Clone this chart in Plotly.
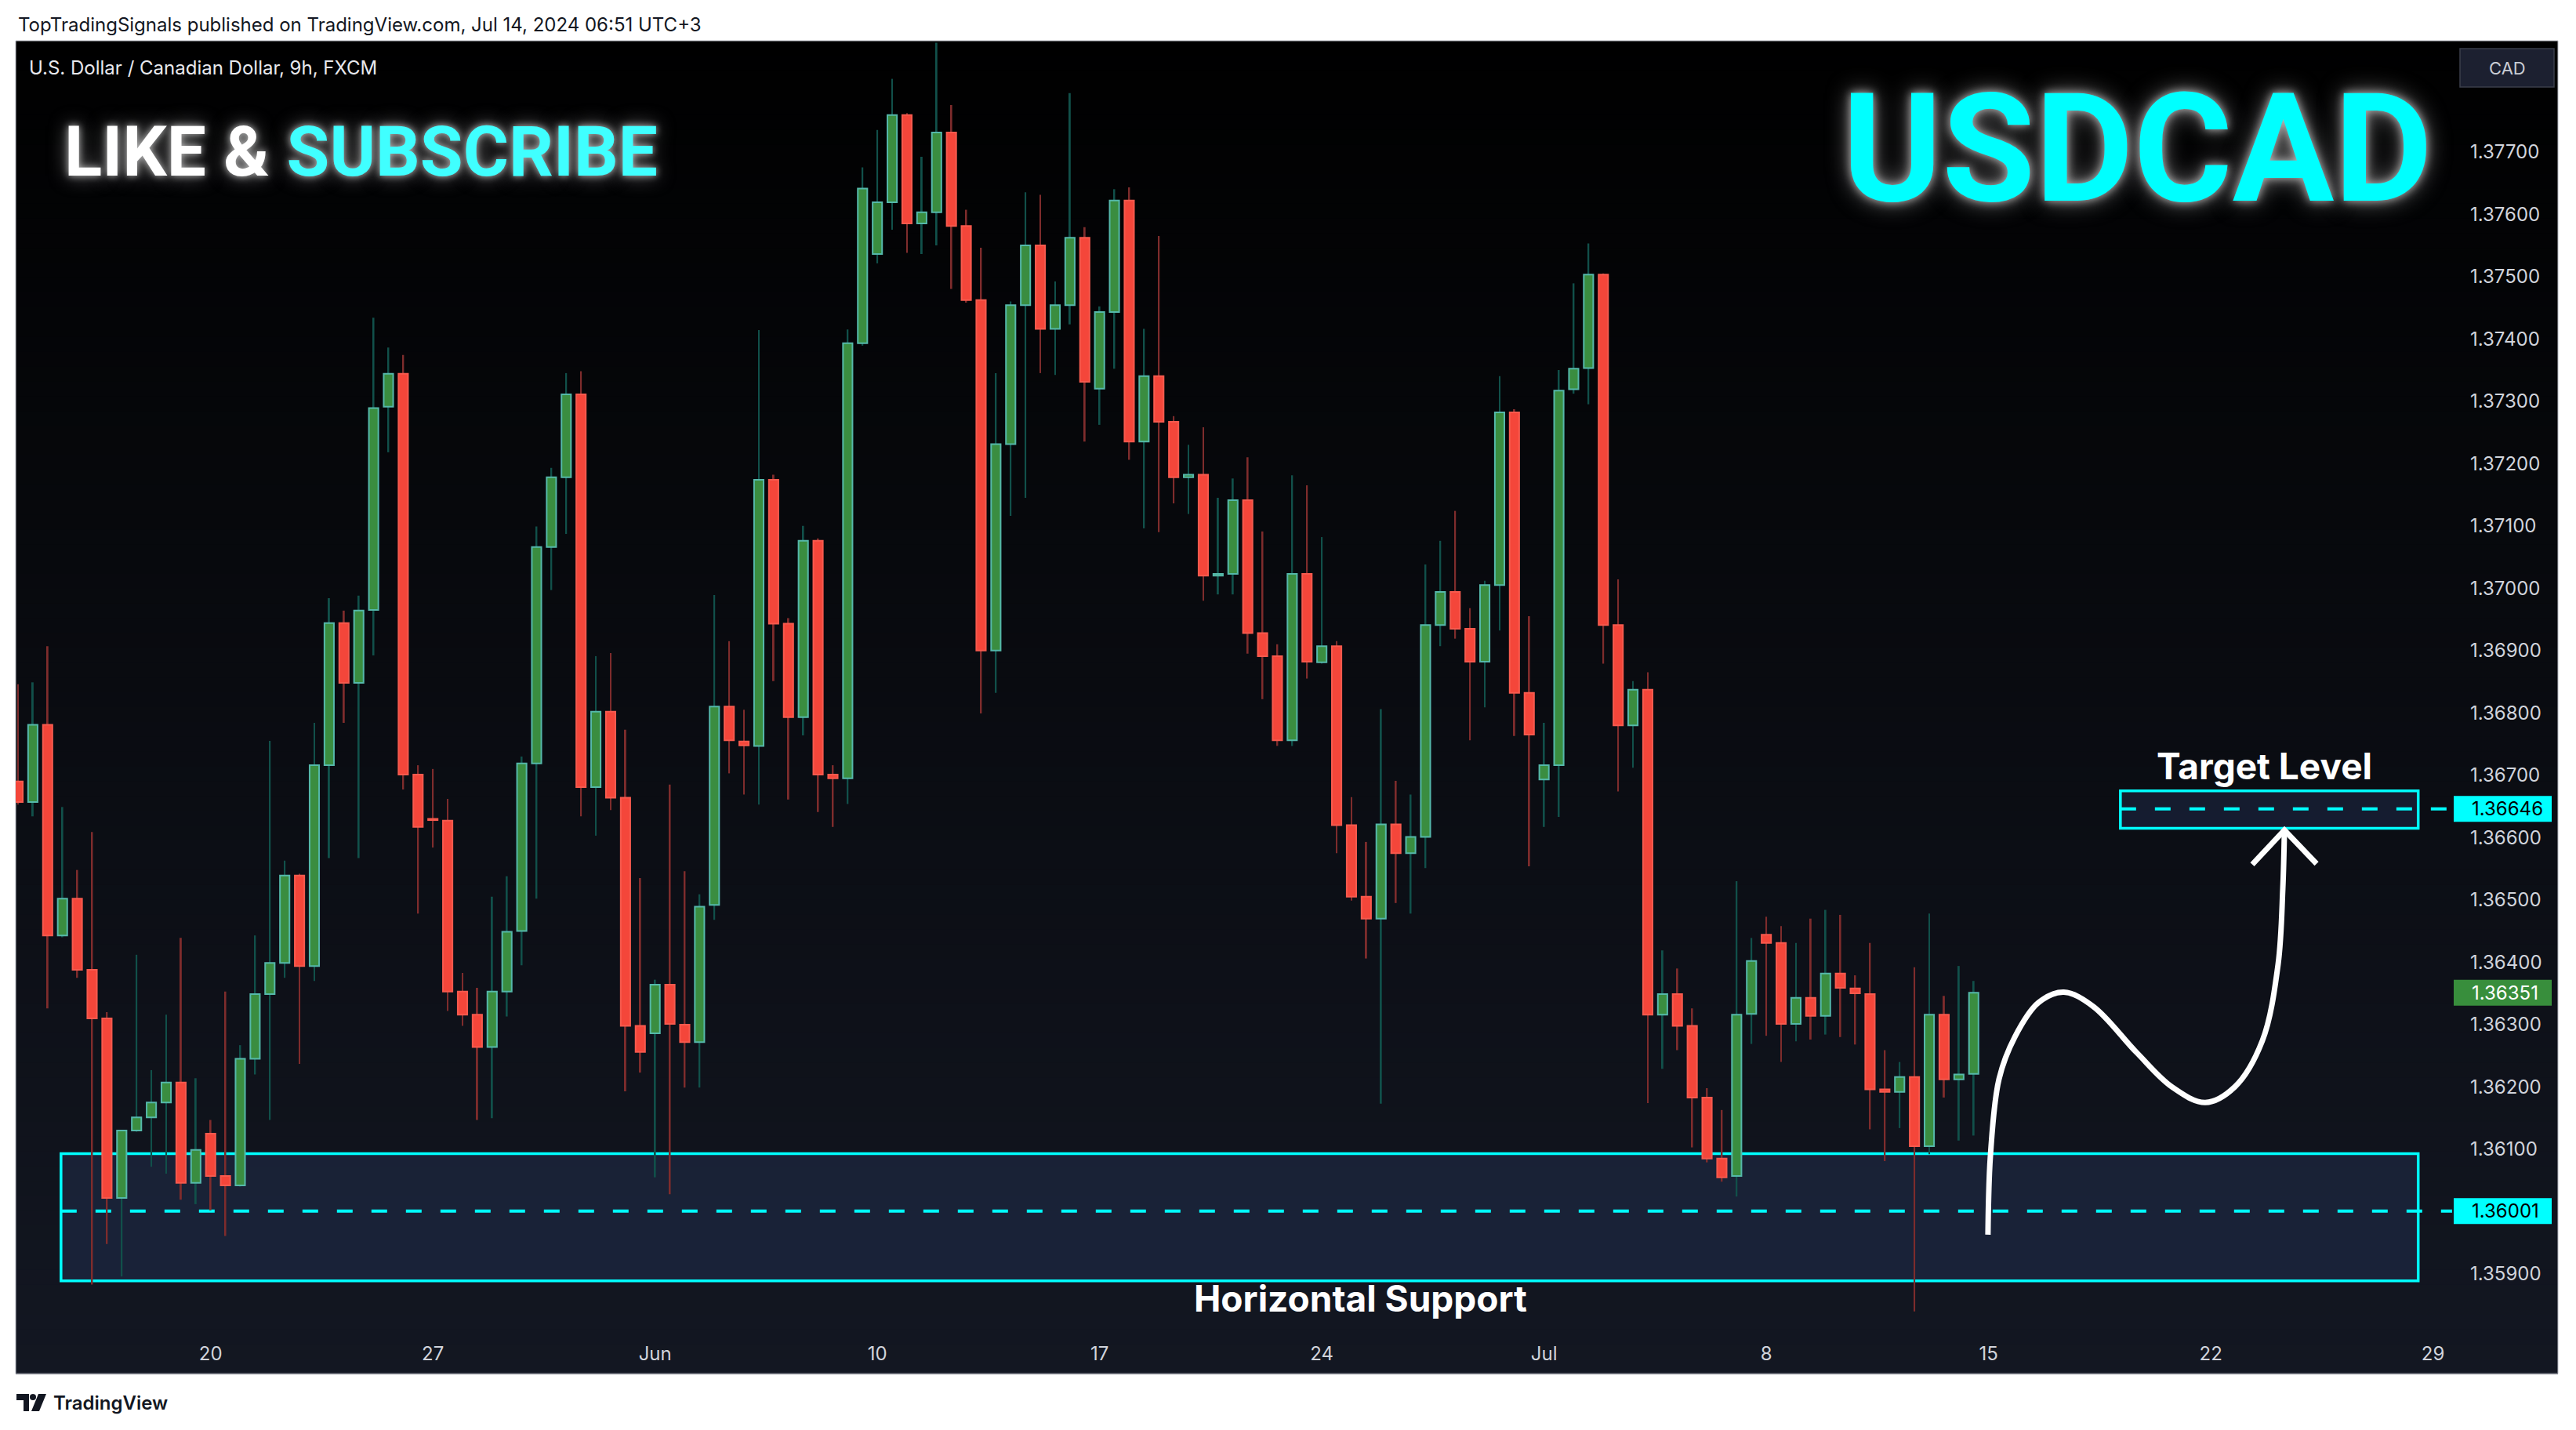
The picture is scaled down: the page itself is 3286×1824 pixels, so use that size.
import numpy as np
import pandas as pd
import plotly.graph_objects as go

# ---------------- data: USDCAD 9h bars (FXCM) ----------------
open_ = [1.36690, 1.36657, 1.36781, 1.36443, 1.36502, 1.36388, 1.36310, 1.36022, 1.36130, 1.36151,
         1.36175, 1.36207, 1.36046, 1.36125, 1.36057, 1.36042, 1.36245, 1.36349, 1.36399, 1.36539,
         1.36394, 1.36716, 1.36944, 1.36848, 1.36965, 1.37291, 1.37344, 1.36701, 1.36630, 1.36627,
         1.36353, 1.36316, 1.36264, 1.36353, 1.36450, 1.36719, 1.37066, 1.37178, 1.37311, 1.36681,
         1.36802, 1.36664, 1.36298, 1.36286, 1.36364, 1.36300, 1.36272, 1.36492, 1.36810, 1.36754,
         1.36747, 1.37174, 1.36943, 1.36793, 1.37076, 1.36701, 1.36695, 1.37393, 1.37536, 1.37619,
         1.37759, 1.37585, 1.37603, 1.37731, 1.37581, 1.37462, 1.36900, 1.37231, 1.37454, 1.37550,
         1.37416, 1.37454, 1.37562, 1.37320, 1.37443, 1.37622, 1.37235, 1.37340, 1.37267, 1.37178,
         1.37182, 1.37020, 1.37023, 1.37141, 1.36928, 1.36891, 1.36756, 1.37023, 1.36881, 1.36907,
         1.36620, 1.36505, 1.36470, 1.36621, 1.36575, 1.36601, 1.36941, 1.36994, 1.36935, 1.36882,
         1.37005, 1.37282, 1.36832, 1.36693, 1.36716, 1.37319, 1.37353, 1.37503, 1.36941, 1.36780,
         1.36837, 1.36316, 1.36349, 1.36298, 1.36183, 1.36085, 1.36057, 1.36317, 1.36444, 1.36431,
         1.36301, 1.36343, 1.36314, 1.36382, 1.36358, 1.36349, 1.36196, 1.36192, 1.36216, 1.36105,
         1.36316, 1.36212, 1.36221]
high = [1.36846, 1.36849, 1.36907, 1.36649, 1.36548, 1.36609, 1.36320, 1.36130, 1.36412, 1.36227,
        1.36316, 1.36439, 1.36214, 1.36147, 1.36353, 1.36267, 1.36443, 1.36755, 1.36563, 1.36542,
        1.36784, 1.36984, 1.36964, 1.36988, 1.37434, 1.37386, 1.37374, 1.36716, 1.36710, 1.36662,
        1.36383, 1.36359, 1.36505, 1.36538, 1.36730, 1.37099, 1.37193, 1.37345, 1.37348, 1.36891,
        1.36896, 1.36773, 1.36535, 1.36372, 1.36685, 1.36546, 1.36509, 1.36989, 1.36915, 1.36805,
        1.37414, 1.37182, 1.36952, 1.37100, 1.37080, 1.36716, 1.37415, 1.37675, 1.37735, 1.37817,
        1.37762, 1.37692, 1.37875, 1.37775, 1.37607, 1.37546, 1.37345, 1.37460, 1.37635, 1.37631,
        1.37492, 1.37794, 1.37579, 1.37452, 1.37640, 1.37643, 1.37416, 1.37565, 1.37276, 1.37230,
        1.37258, 1.37145, 1.37176, 1.37210, 1.37091, 1.36910, 1.37181, 1.37165, 1.37082, 1.36915,
        1.36665, 1.36593, 1.36806, 1.36691, 1.36669, 1.37038, 1.37076, 1.37124, 1.36968, 1.37012,
        1.37340, 1.37287, 1.36955, 1.36784, 1.37350, 1.37489, 1.37553, 1.37505, 1.37014, 1.36851,
        1.36865, 1.36419, 1.36390, 1.36326, 1.36198, 1.36163, 1.36530, 1.36439, 1.36473, 1.36458,
        1.36431, 1.36470, 1.36484, 1.36476, 1.36379, 1.36431, 1.36259, 1.36240, 1.36392, 1.36478,
        1.36346, 1.36394, 1.36370]
low = [1.36653, 1.36634, 1.36326, 1.36440, 1.36375, 1.35883, 1.35948, 1.35896, 1.36128, 1.36072,
       1.36061, 1.36019, 1.36012, 1.36002, 1.35961, 1.36040, 1.36220, 1.36147, 1.36375, 1.36237,
       1.36370, 1.36567, 1.36784, 1.36567, 1.36892, 1.37218, 1.36677, 1.36478, 1.36584, 1.36322,
       1.36298, 1.36147, 1.36150, 1.36313, 1.36395, 1.36502, 1.36997, 1.37087, 1.36634, 1.36603,
       1.36644, 1.36193, 1.36223, 1.36055, 1.36028, 1.36199, 1.36199, 1.36468, 1.36703, 1.36669,
       1.36653, 1.36851, 1.36661, 1.36764, 1.36641, 1.36617, 1.36654, 1.37389, 1.37521, 1.37575,
       1.37538, 1.37536, 1.37550, 1.37480, 1.37458, 1.36799, 1.36832, 1.37116, 1.37145, 1.37345,
       1.37342, 1.37423, 1.37235, 1.37262, 1.37352, 1.37206, 1.37096, 1.37090, 1.37136, 1.37119,
       1.36980, 1.36990, 1.36990, 1.36895, 1.36822, 1.36747, 1.36747, 1.36855, 1.36879, 1.36575,
       1.36499, 1.36406, 1.36173, 1.36495, 1.36478, 1.36551, 1.36907, 1.36919, 1.36756, 1.36809,
       1.36932, 1.36763, 1.36554, 1.36617, 1.36633, 1.37312, 1.37295, 1.36879, 1.36674, 1.36712,
       1.36174, 1.36229, 1.36259, 1.36103, 1.36079, 1.36048, 1.36024, 1.36269, 1.36282, 1.36240,
       1.36273, 1.36276, 1.36284, 1.36280, 1.36268, 1.36132, 1.36081, 1.36134, 1.35840, 1.36092,
       1.36183, 1.36114, 1.36122]
close = [1.36657, 1.36781, 1.36443, 1.36502, 1.36388, 1.36310, 1.36022, 1.36130, 1.36151, 1.36175,
         1.36207, 1.36046, 1.36099, 1.36057, 1.36042, 1.36245, 1.36349, 1.36399, 1.36539, 1.36394,
         1.36716, 1.36944, 1.36848, 1.36964, 1.37289, 1.37344, 1.36701, 1.36617, 1.36628, 1.36353,
         1.36316, 1.36264, 1.36353, 1.36449, 1.36719, 1.37066, 1.37178, 1.37311, 1.36681, 1.36802,
         1.36664, 1.36298, 1.36256, 1.36364, 1.36301, 1.36272, 1.36489, 1.36810, 1.36756, 1.36748,
         1.37174, 1.36943, 1.36793, 1.37076, 1.36701, 1.36695, 1.37393, 1.37641, 1.37619, 1.37759,
         1.37585, 1.37603, 1.37731, 1.37581, 1.37462, 1.36900, 1.37231, 1.37454, 1.37550, 1.37416,
         1.37454, 1.37562, 1.37331, 1.37443, 1.37622, 1.37235, 1.37340, 1.37267, 1.37178, 1.37182,
         1.37020, 1.37023, 1.37141, 1.36928, 1.36891, 1.36756, 1.37023, 1.36882, 1.36907, 1.36620,
         1.36505, 1.36470, 1.36621, 1.36575, 1.36601, 1.36941, 1.36994, 1.36935, 1.36882, 1.37005,
         1.37282, 1.36832, 1.36765, 1.36716, 1.37317, 1.37352, 1.37503, 1.36941, 1.36780, 1.36837,
         1.36316, 1.36349, 1.36298, 1.36183, 1.36085, 1.36055, 1.36316, 1.36402, 1.36431, 1.36301,
         1.36343, 1.36314, 1.36382, 1.36359, 1.36350, 1.36196, 1.36192, 1.36216, 1.36105, 1.36316,
         1.36212, 1.36220, 1.36351]

price_ticks = [1.359, 1.360, 1.361, 1.362, 1.363, 1.364, 1.365, 1.366, 1.367, 1.368,
               1.369, 1.370, 1.371, 1.372, 1.373, 1.374, 1.375, 1.376, 1.377]

# calendar: 3 bars (9h) per trading day; first visible bar = 3rd bar of 13 May 2024
sessions = pd.bdate_range("2024-05-13", "2024-08-02")
BARS_PER_DAY = 3
FIRST_SLOT = 2

# drawings (bar index, price)
support_zone = dict(x0=2.9, x1=162.0, y0=1.35889, y1=1.36093)
support_level = 1.36001
target_zone = dict(x0=141.9, x1=162.0, y0=1.36615, y1=1.36675)
target_level = 1.36646
last_price = close[-1]
path_x = [132.96, 133.13, 133.71, 134.77, 136.36, 138.08, 140.07, 143.0, 145.38, 147.63,
          149.62, 151.48, 152.54, 152.86, 152.97]
path_y = [1.35963, 1.36091, 1.36213, 1.36280, 1.36335, 1.36352, 1.36329, 1.36255, 1.36200, 1.36175,
          1.36200, 1.36274, 1.36396, 1.36518, 1.36612]
head_x = [150.8, 152.97, 155.14]
head_y = [1.36557, 1.36612, 1.36558]

# ---------------- figure geometry ----------------
W, H = 3286, 1824
PL, PR, PT, PB = 20, 3128, 52, 1696          # plot area in px
XR = [-0.159, 164.29]
YR = [1.3581067, 1.3787807]


def px(v):
    return (v - PL) / (PR - PL)


def py(v):
    return (PB - v) / (PB - PT)


o = np.array(open_); h = np.array(high); l = np.array(low); c = np.array(close)
x = np.arange(len(c))
up = c >= o

UP_FILL, UP_EDGE, UP_WICK = "#3a8d40", "#55b8aa", "#11504a"
DN_FILL, DN_EDGE, DN_WICK = "#f4463a", "#f65a4e", "#7e2c2c"
CYAN = "#00ffff"

fig = go.Figure()
fig.add_trace(go.Bar(x=x, y=h - l, base=l, width=0.1,
                     marker=dict(color=np.where(up, UP_WICK, DN_WICK), line=dict(width=0)),
                     hoverinfo="skip", showlegend=False))
fig.add_trace(go.Bar(x=x, y=np.abs(c - o), base=np.minimum(o, c), width=0.64,
                     marker=dict(color=np.where(up, UP_FILL, DN_FILL),
                                 line=dict(color=np.where(up, UP_EDGE, DN_EDGE), width=2)),
                     hoverinfo="skip", showlegend=False))
fig.add_trace(go.Scatter(x=path_x, y=path_y, mode="lines",
                         line=dict(color="white", width=7, shape="spline", smoothing=1.0),
                         hoverinfo="skip", showlegend=False))
fig.add_trace(go.Scatter(x=head_x, y=head_y, mode="lines",
                         line=dict(color="white", width=7),
                         hoverinfo="skip", showlegend=False))

shapes = []
# gradient background for the chart frame
FX0, FX1, FY0, FY1 = 20, 3263, 52, 1752
N = 90
top_c = np.array([0, 0, 0]); bot_c = np.array([19, 23, 34])
for i in range(N):
    t = (i + 0.5) / N
    col = top_c + (bot_c - top_c) * t
    ya = FY0 + (FY1 - FY0) * i / N
    yb = FY0 + (FY1 - FY0) * (i + 1) / N + 1
    shapes.append(dict(type="rect", xref="paper", yref="paper", x0=px(FX0), x1=px(FX1),
                       y0=py(yb), y1=py(ya), line=dict(width=0),
                       fillcolor="rgb(%d,%d,%d)" % tuple(col.round()), layer="below"))
shapes.append(dict(type="rect", xref="paper", yref="paper", x0=px(FX0), x1=px(FX1),
                   y0=py(FY1), y1=py(FY0), line=dict(width=1, color="#b8bbc3"),
                   fillcolor="rgba(0,0,0,0)", layer="below"))

zone_fill = "rgba(50,77,133,0.25)"
for z in (support_zone, target_zone):
    shapes.append(dict(type="rect", xref="x", yref="y", **z, fillcolor=zone_fill,
                       line=dict(color=CYAN, width=3.5), layer="below"))
shapes.append(dict(type="line", xref="x", yref="y", x0=support_zone["x0"], x1=XR[1],
                   y0=support_level, y1=support_level,
                   line=dict(color=CYAN, width=4, dash="20px,24px"), layer="below"))
shapes.append(dict(type="line", xref="x", yref="y", x0=target_zone["x0"], x1=XR[1],
                   y0=target_level, y1=target_level,
                   line=dict(color=CYAN, width=4, dash="20px,24px"), layer="below"))

annotations = []
# price labels on the axis
for lvl, bg, fg in ((target_level, CYAN, "#000000"), (last_price, "#388e3c", "#ffffff"),
                    (support_level, CYAN, "#000000")):
    shapes.append(dict(type="rect", xref="paper", yref="y", x0=px(3130), x1=px(3255),
                       ysizemode="pixel", yanchor=lvl, y0=-16.5, y1=16.5,
                       fillcolor=bg, line=dict(width=0), layer="above"))
    annotations.append(dict(xref="paper", yref="y", x=px(3151), y=lvl, xanchor="left",
                            yanchor="middle", showarrow=False, text="%.5f" % lvl,
                            font=dict(family="Inter", size=24, color=fg)))

# CAD button
shapes.append(dict(type="rect", xref="paper", yref="paper", x0=px(3138), x1=px(3258),
                   y0=py(111), y1=py(62), fillcolor="#1c2030",
                   line=dict(color="#3a3e4a", width=1.5), layer="above"))
annotations.append(dict(xref="paper", yref="paper", x=px(3198), y=py(87), showarrow=False,
                        xanchor="center", yanchor="middle",
                        text="CAD", font=dict(family="Inter", size=22, color="#c9ccd4")))

# TradingView logo
shapes.append(dict(type="path", xref="paper", yref="paper",
                   path="M %f,%f L %f,%f L %f,%f L %f,%f L %f,%f L %f,%f Z" % (
                       px(21), py(1778), px(37), py(1778), px(37), py(1800),
                       px(30), py(1800), px(30), py(1786), px(21), py(1786)),
                   fillcolor="#131722", line=dict(width=0)))
shapes.append(dict(type="circle", xref="paper", yref="paper", x0=px(38), x1=px(46),
                   y0=py(1786), y1=py(1778), fillcolor="#131722", line=dict(width=0)))
shapes.append(dict(type="path", xref="paper", yref="paper",
                   path="M %f,%f L %f,%f L %f,%f L %f,%f Z" % (
                       px(49), py(1778), px(59), py(1778), px(50), py(1800), px(40), py(1800)),
                   fillcolor="#131722", line=dict(width=0)))

# texts
annotations += [
    dict(xref="paper", yref="paper", x=px(21), y=py(31), xanchor="left", yanchor="middle",
         showarrow=False, text="TopTradingSignals published on TradingView.com, Jul 14, 2024 06:51 UTC+3",
         font=dict(family="Inter", size=24, color="#131722")),
    dict(xref="paper", yref="paper", x=px(35), y=py(86), xanchor="left", yanchor="middle",
         showarrow=False, text="U.S. Dollar / Canadian Dollar, 9h, FXCM",
         font=dict(family="Inter", size=24, color="#e8e9ee")),
    dict(xref="paper", yref="paper", x=px(66), y=py(1789), xanchor="left", yanchor="middle",
         showarrow=False, text="TradingView",
         font=dict(family="Inter", size=24, color="#131722", weight=600)),
    dict(xref="paper", yref="paper", x=px(80), y=py(193), xanchor="left", yanchor="middle",
         showarrow=False,
         text="LIKE &amp; <span style='color:#40ffff'>SUBSCRIBE</span>",
         font=dict(family="Liberation Sans Narrow, Roboto", size=89, color="#ffffff", weight=700,
                   shadow="0px 0px 10px rgba(200,200,200,0.9), 0px 0px 24px rgba(130,130,130,0.9)")),
    dict(xref="paper", yref="paper", x=px(2726), y=py(190), xanchor="center", yanchor="middle",
         showarrow=False, text="USDCAD",
         font=dict(family="Liberation Sans Narrow, Roboto", size=193, color=CYAN, weight=700,
                   shadow="0px 0px 12px rgba(200,200,200,0.9), 0px 0px 30px rgba(130,130,130,0.9)")),
    dict(xref="x", yref="y", x=151.6, y=1.36715, showarrow=False, text="Target Level",
         font=dict(family="Inter", size=46, color="#ffffff", weight=700)),
    dict(xref="x", yref="y", x=90.6, y=1.35861, showarrow=False, text="Horizontal Support",
         font=dict(family="Inter", size=46, color="#ffffff", weight=700)),
]

# x ticks: first bar of every Monday
tickvals, ticktext = [], []
for s, d in enumerate(sessions):
    if d.weekday() == 0:
        idx = s * BARS_PER_DAY - FIRST_SLOT
        if XR[0] <= idx <= XR[1]:
            tickvals.append(idx)
            ticktext.append(d.strftime("%b") if d.day <= 7 else str(d.day))

fig.update_layout(
    template="none",
    width=W, height=H,
    margin=dict(l=PL, r=W - PR, t=PT, b=H - PB, pad=0),
    paper_bgcolor="#ffffff", plot_bgcolor="rgba(0,0,0,0)",
    barmode="overlay", showlegend=False,
    shapes=shapes, annotations=annotations,
    xaxis=dict(range=XR, tickvals=tickvals, ticktext=ticktext, showgrid=False, zeroline=False,
               showline=False, ticks="", automargin=False, ticklabelstandoff=14,
               tickfont=dict(family="Inter", size=24, color="#d1d4dc")),
    yaxis=dict(range=YR, side="right", tickvals=price_ticks, tickformat=".5f", showgrid=False,
               zeroline=False, showline=False, ticks="", automargin=False, ticklabelstandoff=22,
               tickfont=dict(family="Inter", size=24, color="#d1d4dc")),
)

fig.write_html("out.html", config={"displayModeBar": False},
               post_script="document.body.style.margin='0';document.body.style.overflow='hidden';")
